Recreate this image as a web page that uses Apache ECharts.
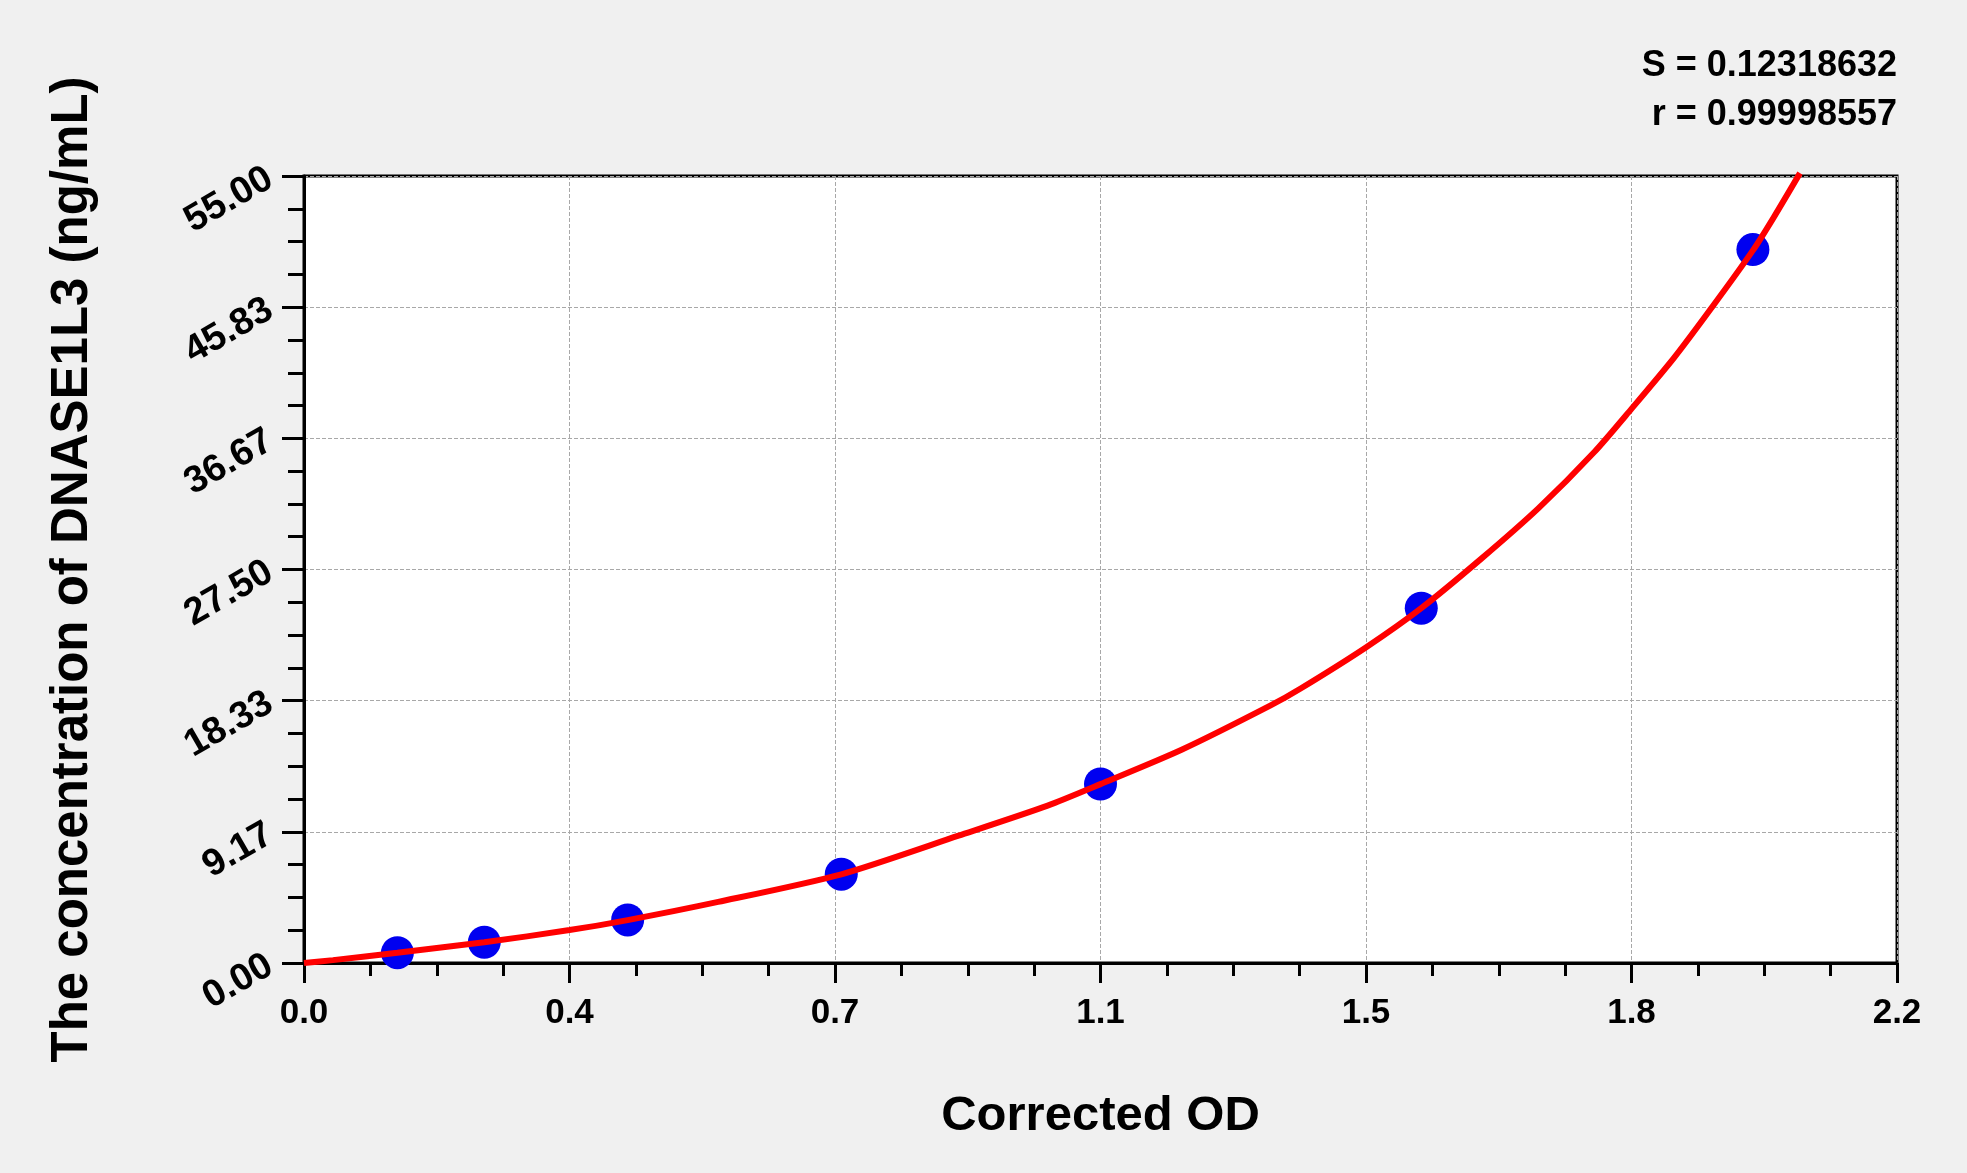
<!DOCTYPE html>
<html>
<head>
<meta charset="utf-8">
<title>DNASE1L3 standard curve</title>
<script src="https://cdn.jsdelivr.net/npm/echarts@6/dist/echarts.min.js"></script>
<style>
    html, body { margin: 0; padding: 0; background: #f0f0f0; }
    #main { width: 1967px; height: 1173px; }
</style>
</head>
<body>
<div id="main"></div>
<script>
// standard points (OD, concentration)
var stdOD = [0.129, 0.249, 0.447, 0.742, 1.100, 1.543, 2.001];
var stdConc = [0.72, 1.45, 3.01, 6.21, 12.51, 24.80, 49.86];

// fitted curve
var curveOD = [0, 0.04, 0.129, 0.249, 0.3667, 0.447, 0.572, 0.742, 0.904, 1.027, 1.100,
    1.212, 1.335, 1.377, 1.467, 1.543, 1.626, 1.705, 1.782, 1.833, 1.892, 1.947, 2.001, 2.030, 2.066];
var curveConc = [0, 0.2, 0.72, 1.45, 2.30, 3.00, 4.27, 6.20, 8.9, 11.0, 12.50,
    14.9, 18.0, 19.2, 22.07, 24.80, 28.26, 31.79, 35.71, 38.71, 42.29, 46.0, 49.80, 52.13, 55.2];

var fitText = ['S = 0.12318632', 'r = 0.99998557'];

var font = "'Liberation Sans', Arial, sans-serif";

function pairs(xs, ys) {
    var out = [];
    for (var i = 0; i < xs.length; i++) {
        out.push([xs[i], ys[i]]);
    }
    return out;
}

var chart = echarts.init(document.getElementById('main'));
var option = {
    backgroundColor: '#f0f0f0',
    animation: false,
    graphic: [{
        type: 'text',
        right: 70,
        top: 42,
        style: {
            text: fitText.join('\n'),
            textAlign: 'right',
            font: 'bold 36px ' + font,
            lineHeight: 49,
            fill: '#000'
        }
    }],
    grid: {
        left: 304,
        right: 70,
        top: 176,
        bottom: 210,
        show: true,
        backgroundColor: '#fff',
        borderColor: '#000',
        borderWidth: 3
    },
    xAxis: {
        type: 'value',
        min: 0,
        max: 2.2,
        interval: 2.2 / 6,
        name: 'Corrected OD',
        nameLocation: 'middle',
        nameGap: 129,
        nameTextStyle: {
            fontFamily: font,
            fontWeight: 'bold',
            fontSize: 49,
            color: '#000'
        },
        axisLine: { lineStyle: { color: '#000', width: 3 } },
        axisTick: { length: 20, lineStyle: { color: '#000', width: 3 } },
        minorTick: { show: true, splitNumber: 4, length: 13, lineStyle: { color: '#000', width: 3 } },
        splitLine: { show: true, lineStyle: { color: '#a8a8a8', type: 'dashed', width: 1 } },
        axisLabel: {
            margin: 33,
            fontFamily: font,
            fontWeight: 'bold',
            fontSize: 35,
            color: '#000',
            formatter: function (v) { return v.toFixed(1); }
        }
    },
    yAxis: {
        type: 'value',
        min: 0,
        max: 55,
        interval: 55 / 6,
        name: 'The concentration of DNASE1L3 (ng/mL)',
        nameLocation: 'middle',
        nameGap: 206,
        nameTextStyle: {
            fontFamily: font,
            fontWeight: 'bold',
            fontSize: 51,
            color: '#000'
        },
        axisLine: { lineStyle: { color: '#000', width: 3 } },
        axisTick: { length: 22, lineStyle: { color: '#000', width: 3 } },
        minorTick: { show: true, splitNumber: 4, length: 16, lineStyle: { color: '#000', width: 3 } },
        splitLine: { show: true, lineStyle: { color: '#a8a8a8', type: 'dashed', width: 1 } },
        axisLabel: {
            margin: 34,
            rotate: 30,
            fontFamily: font,
            fontWeight: 'bold',
            fontSize: 38,
            color: '#000',
            formatter: function (v) { return v.toFixed(2); }
        }
    },
    series: [
        {
            type: 'scatter',
            data: pairs(stdOD, stdConc),
            symbolSize: 33,
            itemStyle: { color: '#0000f0', opacity: 1 },
            z: 2
        },
        {
            type: 'line',
            data: pairs(curveOD, curveConc),
            smooth: 0.25,
            showSymbol: false,
            clip: false,
            lineStyle: { color: '#ff0000', width: 6 },
            z: 3
        }
    ]
};
chart.setOption(option);
</script>
</body>
</html>
